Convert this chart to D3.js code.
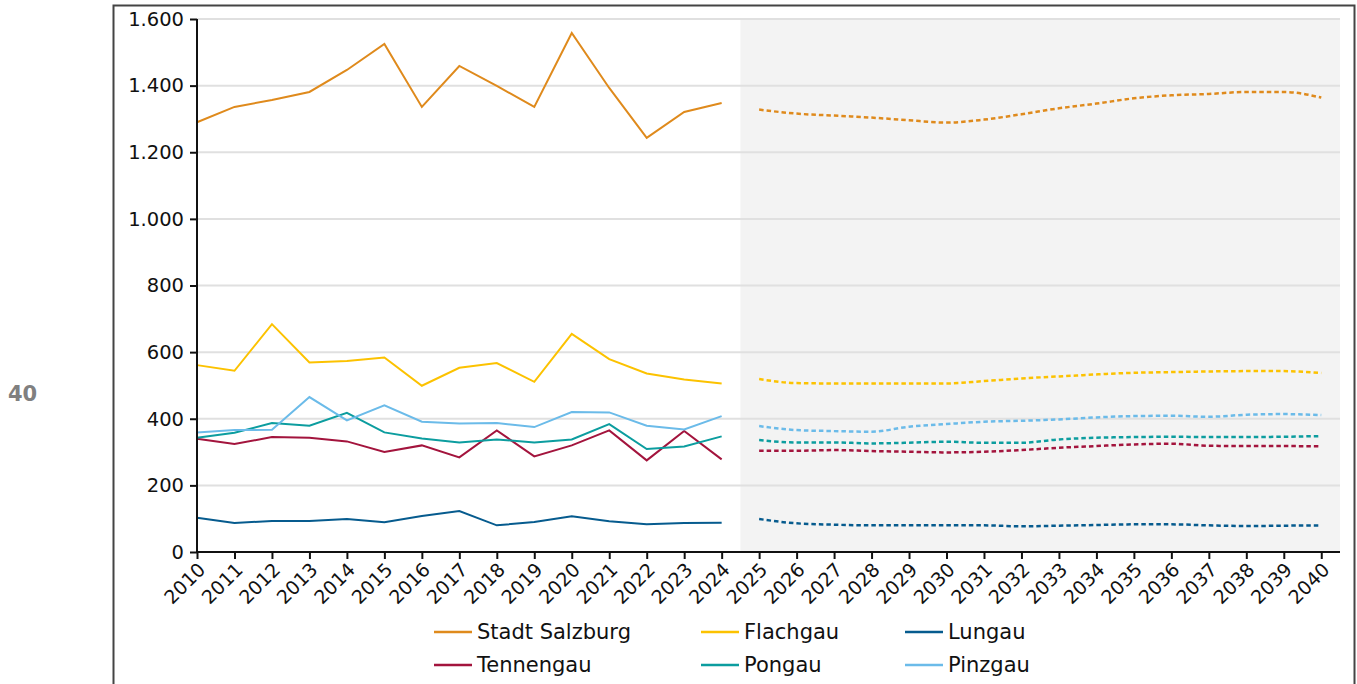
<!DOCTYPE html>
<html>
<head>
<meta charset="utf-8">
<script src="https://cdn.jsdelivr.net/npm/d3@7/dist/d3.min.js"></script>
<style>
  body { margin: 0; background: #fff; }
  svg { display: block; font-family: 'DejaVu Sans', sans-serif; }
  .axis text { fill: #111; }
  .axis path, .axis line { stroke: #111; stroke-width: 2; }
</style>
</head>
<body>
<svg width="1357" height="684"></svg>
<script>
const yearsHist = d3.range(2010, 2025)
const yearsProj = d3.range(2025, 2041)
const yTicks = [0, 200, 400, 600, 800, 1000, 1200, 1400, 1600]

const regions = ['Stadt Salzburg', 'Flachgau', 'Lungau', 'Tennengau', 'Pongau', 'Pinzgau']
const colors = ['#df8a1c', '#fcc200', '#065b8e', '#a3143d', '#0c9d9f', '#6bbbe9']

// 2010–2024
const stadtHist = [1290, 1336, 1357, 1381, 1447, 1525, 1336, 1459, 1399, 1336, 1558, 1393, 1243, 1321, 1348]
const flachgauHist = [561, 544, 684, 569, 573, 584, 499, 553, 567, 511, 655, 579, 536, 518, 506]
const lungauHist = [103, 87, 93, 93, 99, 89, 108, 123, 80, 90, 107, 92, 83, 87, 88]
const tennengauHist = [340, 324, 345, 343, 332, 300, 320, 284, 365, 287, 320, 365, 275, 363, 278]
const pongauHist = [343, 358, 387, 379, 418, 359, 341, 329, 338, 329, 338, 384, 309, 317, 347]
const pinzgauHist = [359, 366, 367, 465, 395, 440, 391, 386, 387, 375, 420, 419, 379, 368, 408]

// 2025–2040 (Prognose)
const stadtProj = [1328, 1316, 1310, 1304, 1296, 1289, 1298, 1314, 1332, 1346, 1362, 1371, 1375, 1381, 1381, 1364]
const flachgauProj = [519, 507, 506, 506, 506, 506, 513, 521, 527, 533, 538, 540, 542, 543, 543, 537]
const lungauProj = [99, 86, 82, 80, 80, 80, 80, 77, 79, 81, 83, 83, 80, 78, 79, 80]
const tennengauProj = [304, 304, 306, 303, 301, 299, 301, 306, 313, 318, 323, 325, 319, 318, 318, 317]
const pongauProj = [336, 329, 329, 326, 328, 331, 328, 328, 338, 343, 345, 346, 345, 345, 346, 348]
const pinzgauProj = [378, 366, 363, 361, 376, 384, 391, 394, 398, 404, 408, 409, 406, 412, 414, 411]

const histSeries = [stadtHist, flachgauHist, lungauHist, tennengauHist, pongauHist, pinzgauHist]
const projSeries = [stadtProj, flachgauProj, lungauProj, tennengauProj, pongauProj, pinzgauProj]

const svg = d3.select('svg')
const margin = { top: 19, left: 197 }
const innerWidth = 1143
const innerHeight = 533

const de = d3.formatLocale({ decimal: ',', thousands: '.', grouping: [3], currency: ['', ' €'] })

// outer frame
svg.append('rect')
  .attr('x', 113.5).attr('y', 5.5)
  .attr('width', 1241).attr('height', 720)
  .attr('fill', 'none')
  .attr('stroke', '#444')
  .attr('stroke-width', 2)

svg.append('text')
  .attr('x', 8).attr('y', 401)
  .attr('font-size', 21)
  .attr('font-weight', 'bold')
  .attr('fill', '#808080')
  .text('40')

const g = svg.append('g')
  .attr('transform', `translate(${margin.left}, ${margin.top})`)

const xScale = d3.scaleLinear()
  .domain([2010, 2040.5])
  .range([0, innerWidth])

const yScale = d3.scaleLinear()
  .domain([0, 1600])
  .range([innerHeight, 0])

// forecast background
g.append('rect')
  .attr('x', xScale(2024.5))
  .attr('y', 0)
  .attr('width', innerWidth - xScale(2024.5))
  .attr('height', innerHeight)
  .attr('fill', '#f3f3f3')

// gridlines
g.selectAll('.grid')
  .data(yTicks.filter(d => d > 0))
  .enter()
  .append('line')
  .attr('x1', 0).attr('x2', innerWidth)
  .attr('y1', d => yScale(d)).attr('y2', d => yScale(d))
  .attr('stroke', '#e0e0e0')
  .attr('stroke-width', 2)

const histLine = d3.line()
  .x((d, i) => xScale(yearsHist[i]))
  .y(d => yScale(d))

const projLine = d3.line()
  .x((d, i) => xScale(yearsProj[i]))
  .y(d => yScale(d))
  .curve(d3.curveMonotoneX)

g.selectAll('.hist')
  .data(histSeries)
  .enter()
  .append('path')
  .attr('class', 'hist')
  .attr('d', histLine)
  .attr('fill', 'none')
  .attr('stroke', (d, i) => colors[i])
  .attr('stroke-width', 2)

g.selectAll('.proj')
  .data(projSeries)
  .enter()
  .append('path')
  .attr('class', 'proj')
  .attr('d', projLine)
  .attr('fill', 'none')
  .attr('stroke', (d, i) => colors[i])
  .attr('stroke-width', 2.5)
  .attr('stroke-dasharray', '4.5,3')

// axes
const yAxis = d3.axisLeft(yScale)
  .tickValues(yTicks)
  .tickSize(7)
  .tickSizeOuter(0)
  .tickPadding(6)
  .tickFormat(de.format(',d'))

const yAxisG = g.append('g')
  .attr('class', 'axis')
  .call(yAxis)
  .attr('font-family', 'DejaVu Sans')
  .attr('font-size', 19.5)
yAxisG.select('.domain').attr('d', `M0,0V${innerHeight}`)

const xAxis = d3.axisBottom(xScale)
  .tickValues(yearsHist.concat(yearsProj))
  .tickSize(7)
  .tickSizeOuter(0)
  .tickFormat(d => String(d))

const xAxisG = g.append('g')
  .attr('class', 'axis')
  .attr('transform', `translate(0, ${innerHeight})`)
  .call(xAxis)
  .attr('font-family', 'DejaVu Sans')
  .attr('font-size', 19)
xAxisG.select('.domain').attr('d', `M0,0H${innerWidth}`)
xAxisG.selectAll('.tick text')
  .attr('text-anchor', 'end')
  .attr('x', 0).attr('y', 0).attr('dy', 0)
  .attr('transform', 'translate(9, 19) rotate(-45)')

// legend
const legendX = [434, 701, 905]
const legendY = [632, 665]
const legend = svg.selectAll('.legend')
  .data(regions)
  .enter()
  .append('g')
  .attr('class', 'legend')
  .attr('transform', (d, i) => `translate(${legendX[i % 3]}, ${legendY[Math.floor(i / 3)]})`)

legend.append('line')
  .attr('x1', 0).attr('x2', 38)
  .attr('stroke', (d, i) => colors[i])
  .attr('stroke-width', 2.5)

legend.append('text')
  .attr('x', 43)
  .attr('dy', '0.35em')
  .attr('font-size', 21)
  .attr('fill', '#111')
  .text(d => d)
</script>
</body>
</html>
